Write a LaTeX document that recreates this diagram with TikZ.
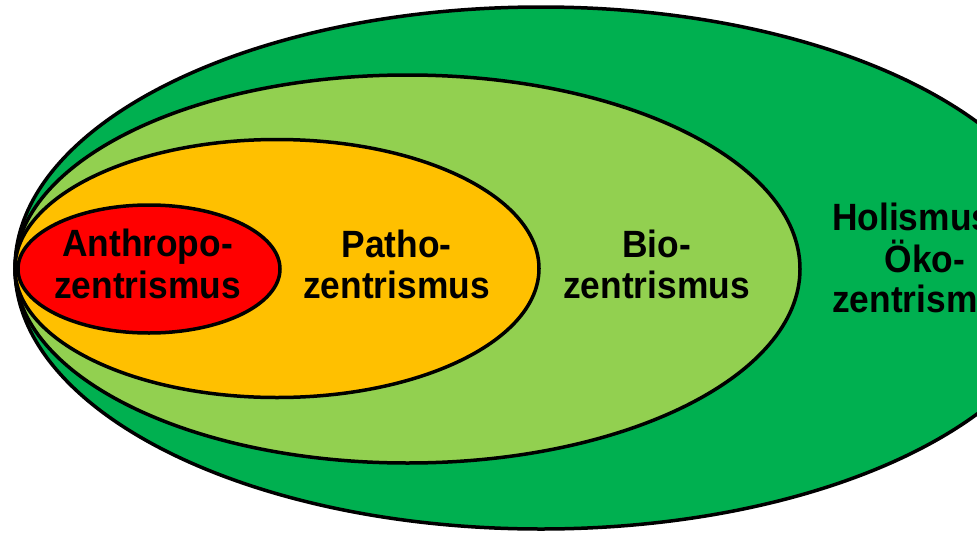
\documentclass[tikz,border=0pt]{standalone}
\usepackage{fontspec}
\setmainfont{Liberation Sans}[FakeStretch=0.93]
\definecolor{dkgreen}{RGB}{0,176,80}
\definecolor{ltgreen}{RGB}{146,208,80}
\definecolor{orng}{RGB}{255,192,0}
\definecolor{rd}{RGB}{255,0,0}
\begin{document}
\begin{tikzpicture}[x=1pt,y=-1pt,
  ring/.style={draw=black, line width=3.5pt},
  lbl/.style={font=\bfseries\fontsize{38}{40}\selectfont, inner sep=0pt, text=black}]
\useasboundingbox (0,0) rectangle (977,538);
\clip (0,0) rectangle (977,538);
\fill[white] (0,0) rectangle (977,538);
% nested ellipses
\filldraw[ring, fill=dkgreen] (541,268) ellipse [x radius=526, y radius=261];
\filldraw[ring, fill=ltgreen] (407.5,269) ellipse [x radius=392.5, y radius=194];
\filldraw[ring, fill=orng] (277,268.5) ellipse [x radius=262, y radius=129];
\filldraw[ring, fill=rd] (149,269) ellipse [x radius=131, y radius=64];
% labels
\node[lbl, anchor=base] (an1) at (147.5,256) {Anthropo-};
\node[lbl, anchor=base] (an2) at (147.5,298) {zentrismus};
\node[lbl, anchor=base] (pa1) at (396.5,257) {Patho-};
\node[lbl, anchor=base] (pa2) at (396.5,298) {zentrismus};
\node[lbl, anchor=base] (bi1) at (656.5,257) {Bio-};
\node[lbl, anchor=base] (bi2) at (656.5,298) {zentrismus};
\node[lbl, anchor=base west] (ho1) at (832,230) {Holismus};
\node[lbl, anchor=base] (ho2) at (925,272) {Öko-};
\node[lbl, anchor=base west] (ho3) at (832,312) {zentrismus};
\end{tikzpicture}
\end{document}
